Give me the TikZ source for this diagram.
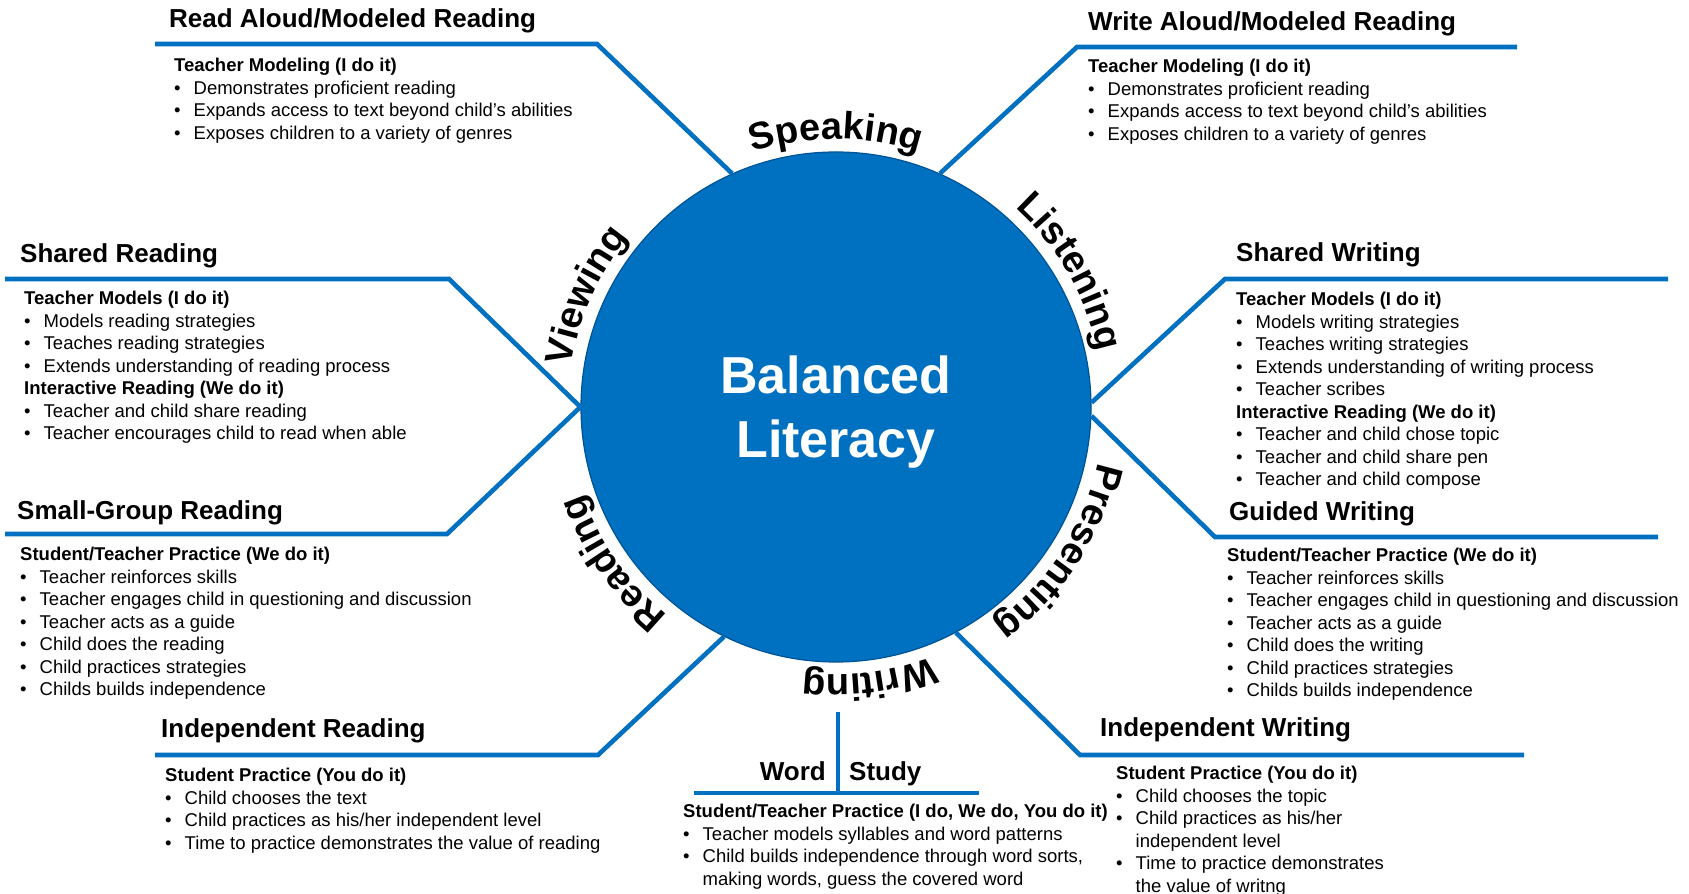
\documentclass[tikz,border=0pt]{standalone}
\usepackage{fontspec}
\setmainfont{Liberation Sans}
\usetikzlibrary{decorations.text}
\definecolor{litblue}{RGB}{0,112,192}
\definecolor{litedge}{RGB}{0,84,150}
\newcommand{\ringfont}{\fontsize{38}{42}\selectfont\bfseries}
\tikzset{
  link/.style={litblue, line width=4.6pt},
  heading/.style={anchor=base west, inner sep=0pt, font=\fontsize{26}{30}\selectfont\bfseries},
  body/.style={anchor=base west, inner sep=0pt, font=\fontsize{18.5}{22.5}\selectfont},
  hub/.style={circle, fill=litblue, draw=litedge, line width=1.2pt, minimum size=510pt, inner sep=0pt},
  hubtext/.style={anchor=base, inner sep=0pt, text=white, font=\fontsize{52}{60}\selectfont\bfseries},
  ring/.style={decorate, decoration={text along path, text align=center, text={|\ringfont|#1}}}
}
\begin{document}
\begin{tikzpicture}[x=1pt,y=1pt]
\fill[white] (0,0) rectangle (1689,894);
\useasboundingbox (0,0) rectangle (1689,894);

% hub
\node[hub] (bl) at (836,487) {};
\node[hubtext] (bl-top) at (836,500) {Balanced};
\node[hubtext] (bl-bot) at (836,436) {Literacy};

% words round the hub, clockwise
\path[ring=Speaking] ([shift={(120:268)}]bl.center) arc[start angle=120, end angle=60, radius=268];
\path[ring=Listening] ([shift={(60:268)}]bl.center) arc[start angle=60, end angle=0, radius=268];
\path[ring=Presenting] ([shift={(-3:268)}]bl.center) arc[start angle=-3, end angle=-63, radius=268];
\path[ring=Writing] ([shift={(-53:268)}]bl.center) arc[start angle=-53, end angle=-113, radius=268];
\path[ring=Reading] ([shift={(-115:268)}]bl.center) arc[start angle=-115, end angle=-175, radius=268];
\path[ring=Viewing] ([shift={(186:268)}]bl.center) arc[start angle=186, end angle=126, radius=268];

% knees of the blue rules
\coordinate (ra-end) at (155,850);  \coordinate (ra-knee) at (597,850);
\coordinate (wa-knee) at (1077,847); \coordinate (wa-end) at (1517,847);
\coordinate (sr-end) at (5,615);    \coordinate (sr-knee) at (449,615);
\coordinate (sg-knee) at (447,360); \coordinate (sg-end) at (5,360);
\coordinate (ir-knee) at (598,139); \coordinate (ir-end) at (155,139);
\coordinate (iw-knee) at (1080,139); \coordinate (iw-end) at (1524,139);
\coordinate (gw-knee) at (1215,357); \coordinate (gw-end) at (1658,357);
\coordinate (sw-knee) at (1225,615); \coordinate (sw-end) at (1668,615);
\coordinate (ws-top) at (838,182);  \coordinate (ws-foot) at (838,101);
\coordinate (ws-left) at (694,101); \coordinate (ws-right) at (979,101);

\draw[link] (ra-end) -- (ra-knee) -- (bl.114);
\draw[link] (bl.66) -- (wa-knee) -- (wa-end);
\draw[link] (sr-end) -- (sr-knee) -- (bl.180) -- (sg-knee) -- (sg-end);
\draw[link] (bl.-116) -- (ir-knee) -- (ir-end);
\draw[link] (bl.-62) -- (iw-knee) -- (iw-end);
\draw[link] (bl.-2) -- (gw-knee) -- (gw-end);
\draw[link] (bl.1) -- (sw-knee) -- (sw-end);
\draw[link, line width=4pt] (ws-top) -- (ws-foot);
\draw[link] (ws-left) -- (ws-right);

% headings
\node[heading] (ra-title) at (169,866) {Read Aloud/Modeled Reading};
\node[heading] (wa-title) at (1088,863) {Write Aloud/Modeled Reading};
\node[heading] (sr-title) at (20,631) {Shared Reading};
\node[heading] (sg-title) at (17,374) {Small-Group Reading};
\node[heading] (ir-title) at (161,156) {Independent Reading};
\node[heading] (sw-title) at (1236,632) {Shared Writing};
\node[heading] (gw-title) at (1229,373) {Guided Writing};
\node[heading] (iw-title) at (1100,157) {Independent Writing};
\node[heading, anchor=base east] (ws-word) at (826,113) {Word};
\node[heading] (ws-study) at (849,113) {Study};

% lists
\node[body] (ra-body) at (174,822) {\begin{tabular}[t]{@{}p{19.5pt}@{}l@{}}
\multicolumn{2}{@{}l@{}}{\bfseries Teacher Modeling (I do it)}\\
\textbullet & Demonstrates proficient reading\\
\textbullet & Expands access to text beyond child’s abilities\\
\textbullet & Exposes children to a variety of genres
\end{tabular}};

\node[body] (wa-body) at (1088,821) {\begin{tabular}[t]{@{}p{19.5pt}@{}l@{}}
\multicolumn{2}{@{}l@{}}{\bfseries Teacher Modeling (I do it)}\\
\textbullet & Demonstrates proficient reading\\
\textbullet & Expands access to text beyond child’s abilities\\
\textbullet & Exposes children to a variety of genres
\end{tabular}};

\node[body] (sr-body) at (24,589) {\begin{tabular}[t]{@{}p{19.5pt}@{}l@{}}
\multicolumn{2}{@{}l@{}}{\bfseries Teacher Models (I do it)}\\
\textbullet & Models reading strategies\\
\textbullet & Teaches reading strategies\\
\textbullet & Extends understanding of reading process\\
\multicolumn{2}{@{}l@{}}{\bfseries Interactive Reading (We do it)}\\
\textbullet & Teacher and child share reading\\
\textbullet & Teacher encourages child to read when able
\end{tabular}};

\node[body] (sg-body) at (20,333) {\begin{tabular}[t]{@{}p{19.5pt}@{}l@{}}
\multicolumn{2}{@{}l@{}}{\bfseries Student/Teacher Practice (We do it)}\\
\textbullet & Teacher reinforces skills\\
\textbullet & Teacher engages child in questioning and discussion\\
\textbullet & Teacher acts as a guide\\
\textbullet & Child does the reading\\
\textbullet & Child practices strategies\\
\textbullet & Childs builds independence
\end{tabular}};

\node[body] (ir-body) at (165,112) {\begin{tabular}[t]{@{}p{19.5pt}@{}l@{}}
\multicolumn{2}{@{}l@{}}{\bfseries Student Practice (You do it)}\\
\textbullet & Child chooses the text\\
\textbullet & Child practices as his/her independent level\\
\textbullet & Time to practice demonstrates the value of reading
\end{tabular}};

\node[body] (sw-body) at (1236,588) {\begin{tabular}[t]{@{}p{19.5pt}@{}l@{}}
\multicolumn{2}{@{}l@{}}{\bfseries Teacher Models (I do it)}\\
\textbullet & Models writing strategies\\
\textbullet & Teaches writing strategies\\
\textbullet & Extends understanding of writing process\\
\textbullet & Teacher scribes\\
\multicolumn{2}{@{}l@{}}{\bfseries Interactive Reading (We do it)}\\
\textbullet & Teacher and child chose topic\\
\textbullet & Teacher and child share pen\\
\textbullet & Teacher and child compose
\end{tabular}};

\node[body] (gw-body) at (1227,332) {\begin{tabular}[t]{@{}p{19.5pt}@{}l@{}}
\multicolumn{2}{@{}l@{}}{\bfseries Student/Teacher Practice (We do it)}\\
\textbullet & Teacher reinforces skills\\
\textbullet & Teacher engages child in questioning and discussion\\
\textbullet & Teacher acts as a guide\\
\textbullet & Child does the writing\\
\textbullet & Child practices strategies\\
\textbullet & Childs builds independence
\end{tabular}};

\node[body] (iw-body) at (1116,114) {\begin{tabular}[t]{@{}p{19.5pt}@{}l@{}}
\multicolumn{2}{@{}l@{}}{\bfseries Student Practice (You do it)}\\
\textbullet & Child chooses the topic\\
\textbullet & Child practices as his/her\\
 & independent level\\
\textbullet & Time to practice demonstrates\\
 & the value of writng
\end{tabular}};

\node[body] (ws-body) at (683,76) {\begin{tabular}[t]{@{}p{19.5pt}@{}l@{}}
\multicolumn{2}{@{}l@{}}{\bfseries Student/Teacher Practice (I do, We do, You do it)}\\
\textbullet & Teacher models syllables and word patterns\\
\textbullet & Child builds independence through word sorts,\\
 & making words, guess the covered word
\end{tabular}};
\end{tikzpicture}
\end{document}
